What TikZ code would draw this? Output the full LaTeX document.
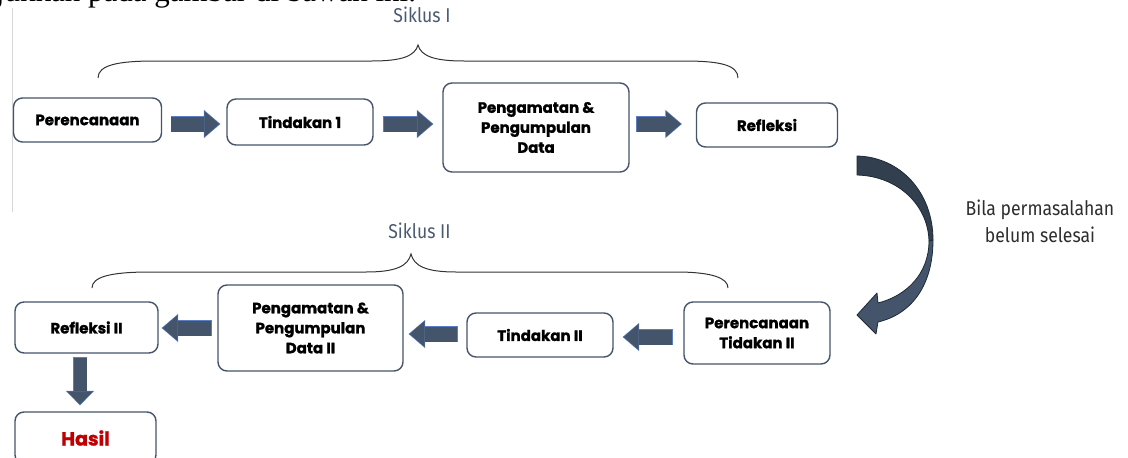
\documentclass[tikz,border=0pt]{standalone}
\usepackage{fontspec}
\usetikzlibrary{arrows.meta,calc}
\newfontfamily\boxfont{Poppins}[BoldFeatures={FakeBold=1.2}]
\newfontfamily\labfont{Fira Sans}[FakeStretch=0.88]
\newfontfamily\docfont{Liberation Serif}
\definecolor{boxline}{HTML}{44546A}
\definecolor{arrfill}{HTML}{44546A}
\definecolor{arrline}{HTML}{5B7FC4}
\definecolor{curvedark}{HTML}{323F4F}
\definecolor{curveline}{HTML}{1E2A38}
\definecolor{siklus}{HTML}{4A5A70}
\definecolor{labtext}{HTML}{2E2E2E}
\definecolor{hasilred}{HTML}{C00000}
\definecolor{margin}{HTML}{D6D6D6}
\begin{document}
\begin{tikzpicture}[x=1pt,y=-1pt,
  stagebox/.style={draw=boxline, line width=1.4pt, rounded corners=9pt, fill=white,
    font=\boxfont\bfseries\fontsize{15}{20}\selectfont, align=center, inner sep=0pt, text=black},
  blk/.style={draw=arrfill, line width=15pt,
    -{Triangle[length=15pt,width=26pt,line width=0pt]},
    preaction={draw=arrline, line width=16.6pt, shorten >=-1.1pt, shorten <=-0.6pt,
      -{Triangle[length=16.6pt,width=28.4pt,line width=0pt]}}},
  blkv/.style={draw=arrfill, line width=13pt,
    -{Triangle[length=13pt,width=26pt,line width=0pt]},
    preaction={draw=arrline, line width=14.6pt, shorten >=-1.1pt, shorten <=-0.6pt,
      -{Triangle[length=14.6pt,width=28.4pt,line width=0pt]}}},
  brace/.style={draw=black!80, line width=1pt},
  lab/.style={font=\labfont\fontsize{20}{27}\selectfont, align=center, inner sep=0pt}
]
\useasboundingbox (0,0) rectangle (1128,458);

% cut-off line of text from the page above
\node[anchor=base west, font=\docfont\fontsize{31}{31}\selectfont, inner sep=0pt] (doc) at (-68,1.5) {ditunjukkan pada gambar di bawah ini.};
\draw[margin, line width=1pt] (12,8) coordinate (m1) -- (12,212) coordinate (m2);

% Siklus I
\node[stagebox, minimum width=148pt, minimum height=44pt] (p1) at (87.5,120) {Perencanaan};
\node[stagebox, minimum width=146pt, minimum height=46pt] (t1) at (300,122) {Tindakan 1};
\node[stagebox, minimum width=186pt, minimum height=89pt] (g1) at (536,127.5) {Pengamatan \&\\Pengumpulan\\Data};
\node[stagebox, minimum width=141pt, minimum height=44pt] (r1) at (767,125) {Refleksi};

\coordinate (rowA) at (0,124);
\draw[blk] ($(p1.east |- rowA)+(9,0)$) -- ($(t1.west |- rowA)+(-7,0)$);
\draw[blk] ($(t1.east |- rowA)+(10,0)$) -- ($(g1.west |- rowA)+(-10,0)$);
\draw[blk] ($(g1.east |- rowA)+(7,0)$) -- ($(r1.west |- rowA)+(-15,0)$);

\node[lab, text=siklus] (s1) at (422,15) {Siklus I};
\draw[brace] (98,78) coordinate (b1l) .. controls (98,65) and (118,61) .. (155,61)
  -- (372,61) .. controls (402,61) and (415,56) .. (418,45) coordinate (b1t)
  .. controls (421,56) and (434,61) .. (464,61) -- (684,61)
  .. controls (720,61) and (738,65) .. (738,78) coordinate (b1r);

% curved arrow
\filldraw[fill=curvedark, draw=curveline, line width=0.8pt, line join=round]
  (857,156) .. controls (900,157) and (933,192) .. (933,240)
  -- (929,241) .. controls (928,205) and (898,176) .. (857,175) -- cycle;
\filldraw[fill=arrfill, draw=curveline, line width=0.8pt, line join=round]
  (933,240) .. controls (933,285) and (912,314) .. (878,322)
  -- (876,334) -- (857,315) -- (877,293) -- (878,303)
  .. controls (906,296) and (929,274) .. (929,241) -- cycle;

\node[lab, text=labtext] (note) at (1040,221) {Bila permasalahan\\belum selesai};

% Siklus II
\node[lab, text=siklus] (s2) at (419.5,230.5) {Siklus II};
\draw[brace] (92,288) coordinate (b2l) .. controls (92,277) and (110,272) .. (150,272)
  -- (366,272) .. controls (396,272) and (408,266) .. (411,254) coordinate (b2t)
  .. controls (414,266) and (426,272) .. (456,272) -- (676,272)
  .. controls (712,272) and (728,278) .. (728,288) coordinate (b2r);

\node[stagebox, minimum width=143pt, minimum height=51pt] (r2) at (86.5,327.5) {Refleksi II};
\node[stagebox, minimum width=185pt, minimum height=86pt] (g2) at (310.5,328) {Pengamatan \&\\Pengumpulan\\Data II};
\node[stagebox, minimum width=146pt, minimum height=44pt] (t2) at (540,335) {Tindakan II};
\node[stagebox, minimum width=146pt, minimum height=62pt] (p2) at (757,333) {Perencanaan\\Tidakan II};
\node[stagebox, minimum width=141pt, minimum height=52pt, text=hasilred, font=\boxfont\bfseries\fontsize{19}{20}\selectfont] (h) at (85.5,438) {Hasil};

\coordinate (rowB) at (0,328);
\coordinate (rowC) at (0,334);
\coordinate (rowD) at (0,337);
\draw[blk] ($(g2.west |- rowB)+(-6,0)$) -- ($(r2.east |- rowB)+(4,0)$);
\draw[blk] ($(t2.west |- rowC)+(-9,0)$) -- ($(g2.east |- rowC)+(6,0)$);
\draw[blk] ($(p2.west |- rowD)+(-11,0)$) -- ($(t2.east |- rowD)+(10,0)$);
\coordinate (colA) at (80,0);
\draw[blkv] ($(r2.south -| colA)+(0,4)$) -- ($(h.north -| colA)+(0,-7)$);
\end{tikzpicture}
\end{document}
